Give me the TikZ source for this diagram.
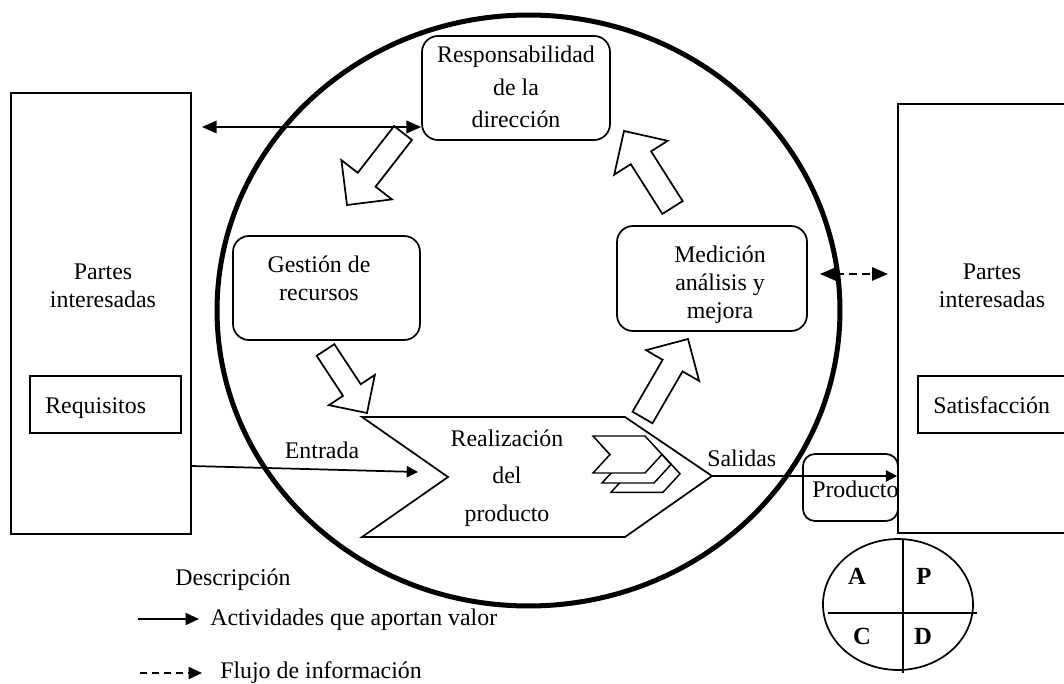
\documentclass[tikz,border=0pt]{standalone}
\usepackage{fontspec}
\setmainfont{Liberation Serif}
\usetikzlibrary{arrows.meta,calc}
\tikzset{
  ln/.style={line width=1.3pt},
  rbox/.style={draw, line width=1.3pt, rounded corners=12pt, inner sep=0pt},
  sbox/.style={draw, line width=1.3pt, inner sep=0pt},
  txt/.style={font=\fontsize{17.9}{21}\selectfont, inner sep=0pt, align=center},
  ltxt/.style={font=\fontsize{17.9}{21}\selectfont, inner sep=0pt},
  pdca/.style={font=\fontsize{18.5}{20}\selectfont\bfseries, inner sep=0pt},
  blk/.style={draw, fill=white, line width=1.3pt, line join=miter},
  tipS/.style={-{Triangle[length=8.5pt,width=8.5pt]}},
  tipL/.style={{Triangle[length=11pt,width=9.5pt]}-{Triangle[length=11pt,width=9.5pt]}},
  tipD/.style={{Triangle[length=12pt,width=10pt]}-{Triangle[length=12pt,width=10pt]}},
  dashA/.style={dash pattern=on 6pt off 4pt},
}
\newcommand\blockarr[6]{%
  \pgfmathsetmacro\bL{veclen((#3)-(#1),(#4)-(#2))}%
  \pgfmathsetmacro\bux{((#3)-(#1))/\bL}%
  \pgfmathsetmacro\buy{((#4)-(#2))/\bL}%
  \pgfmathsetmacro\bbx{(#3)-(\bux)*(#5)}%
  \pgfmathsetmacro\bby{(#4)-(\buy)*(#5)}%
  \draw[blk] ({(#1)-(\buy)*(#6)},{(#2)+(\bux)*(#6)})
    -- ({\bbx-(\buy)*(#6)},{\bby+(\bux)*(#6)})
    -- ({\bbx-(\buy)*(#5)},{\bby+(\bux)*(#5)})
    -- (#3,#4)
    -- ({\bbx+(\buy)*(#5)},{\bby-(\bux)*(#5)})
    -- ({\bbx+(\buy)*(#6)},{\bby-(\bux)*(#6)})
    -- ({(#1)+(\buy)*(#6)},{(#2)-(\bux)*(#6)}) -- cycle;}
\newcommand\smallchev[2]{%
  \draw[blk, line width=1.1pt] (#1,#2) -- ({#1+52},#2) -- ({#1+69},{#2+18.5}) -- ({#1+52},{#2+37})
    -- (#1,{#2+37}) -- ({#1+17},{#2+18.5}) -- cycle;}
\begin{document}
\begin{tikzpicture}[x=0.75pt,y=-0.75pt]
\fill[white] (0,0) rectangle (1064,684);
\useasboundingbox (0,0) rectangle (1064,684);

% left stakeholders
\node[sbox, minimum width=135pt, minimum height=330.75pt] (lbox) at (101,313.5) {};
\node[txt] (lpart) at (103,285.8) {Partes\\interesadas};
\node[sbox, minimum width=113.25pt, minimum height=42.75pt] (req) at (105.5,404.5) {};
\node[ltxt, anchor=base west] (reqt) at (45,413) {Requisitos};

% right stakeholders
\node[sbox, minimum width=144pt, minimum height=321.75pt] (rbx) at (994,318.5) {};
\node[txt] (rpart) at (992,285.8) {Partes\\interesadas};
\node[sbox, minimum width=129pt, minimum height=42.75pt] (sat) at (1004,404.5) {};
\node[ltxt, anchor=base west] (satt) at (933,413) {Satisfacción};

% process boxes
\node[rbox, minimum width=141pt, minimum height=78pt] (resp) at (516,88) {};
\node[txt, font=\fontsize{17.9}{24.4}\selectfont] (respt) at (516,87.3) {Responsabilidad\\de la\\dirección};
\node[rbox, minimum width=140.25pt, minimum height=78pt] (gest) at (326.5,288) {};
\node[txt] (gestt) at (319,278.7) {Gestión de\\recursos};
\node[rbox, minimum width=142.5pt, minimum height=78.75pt] (med) at (712,278.5) {};
\node[txt] (medt) at (720,284.4) {Medición\\análisis y\\mejora};

% product realisation chevron
\coordinate (c1) at (362,417);
\coordinate (c2) at (625,417);
\coordinate (ctip) at (712,476);
\coordinate (c4) at (625,537);
\coordinate (c5) at (362,537);
\coordinate (cnotch) at (448,477);
\draw[ln, line join=miter] (c1) -- (c2) -- (ctip) -- (c4) -- (c5) -- (cnotch) -- cycle;
\node[txt, font=\fontsize{17.9}{28.1}\selectfont] (realt) at (507,477.9) {Realización\\del\\producto};
\smallchev{611}{455.3}
\smallchev{602}{446}
\smallchev{593}{436}

% block arrows of the cycle
\blockarr{403}{133}{347}{205}{32}{11.3}
\blockarr{325.5}{350}{367}{413}{27.5}{10.6}
\blockarr{642.5}{417.5}{688}{339}{30.7}{11.5}
\blockarr{672.5}{207.5}{624}{131}{31.6}{12}

% connectors
\coordinate (topl) at (202,127);
\draw[tipL, line width=1.1pt] (topl) -- (resp.west |- topl);
\coordinate (ein0) at (191,466);
\coordinate (ein1) at (418,472);
\draw[tipS, ln] (lbox.east |- ein0) -- (ein1);
\node[ltxt, anchor=base] (entt) at (322,458) {Entrada};

\node[rbox, rounded corners=9pt, minimum width=71.25pt, minimum height=50.25pt] (prod) at (850.5,487.5) {};
\draw[tipS, ln] (ctip) -- (rbx.west |- ctip);
\node[ltxt, anchor=base west] (salt) at (707,466) {Salidas};
\node[ltxt, anchor=base west] (prodt) at (812,497) {Producto};

\coordinate (d1) at (820,274);
\coordinate (d2) at (888,274);
\draw[tipD, ln, dashA] (d1) -- (d2);

% big circle
\draw[line width=3.75pt] (528.5,310.5) ellipse [x radius=233.6pt, y radius=221.6pt];

% PDCA
\draw[ln] (898,604.5) ellipse [x radius=56.25pt, y radius=49.1pt];
\coordinate (pv1) at (903,539);
\coordinate (pv2) at (903,673);
\coordinate (ph1) at (828,613);
\coordinate (ph2) at (977,613);
\draw[ln] (pv1) -- (pv2);
\draw[ln] (ph1) -- (ph2);
\node[pdca, anchor=base] (pa) at (857,584) {A};
\node[pdca, anchor=base] (pp) at (924,584) {P};
\node[pdca, anchor=base] (pc) at (862,644) {C};
\node[pdca, anchor=base] (pd) at (923,644) {D};

% legend
\node[ltxt, anchor=base west] (desc) at (175,585) {Descripción};
\coordinate (la1) at (138,619);
\coordinate (la2) at (199,619);
\draw[ln, -{Triangle[length=10pt,width=9pt]}] (la1) -- (la2);
\node[ltxt, anchor=base west] (lat) at (210,625) {Actividades que aportan valor};
\coordinate (lb1) at (140,673);
\coordinate (lb2) at (202,673);
\draw[ln, dash pattern=on 5pt off 4pt, -{Triangle[length=10pt,width=9pt]}] (lb1) -- (lb2);
\node[ltxt, anchor=base west] (lbt) at (220,678) {Flujo de información};
\end{tikzpicture}
\end{document}
